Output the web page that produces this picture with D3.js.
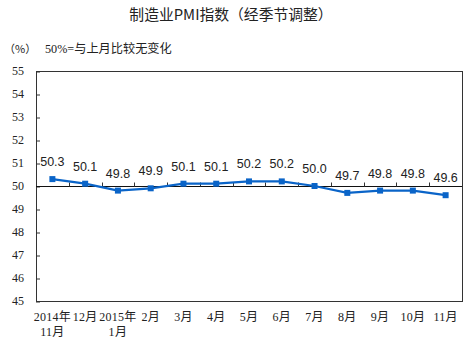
<!DOCTYPE html>
<html>
<head>
<meta charset="utf-8">
<script src="https://cdn.jsdelivr.net/npm/d3@7"></script>
<style>
  html, body { margin: 0; padding: 0; background: #fff; }
  svg { display: block; }
</style>
</head>
<body>
<svg id="chart" width="474" height="346"></svg>
<script>
// Monthly manufacturing PMI, seasonally adjusted
const months = ["2014年|11月", "12月", "2015年|1月", "2月", "3月", "4月", "5月", "6月", "7月", "8月", "9月", "10月", "11月"];
const pmi = [50.3, 50.1, 49.8, 49.9, 50.1, 50.1, 50.2, 50.2, 50.0, 49.7, 49.8, 49.8, 49.6];
const yTicks = [45, 46, 47, 48, 49, 50, 51, 52, 53, 54, 55];

const svg = d3.select("#chart");
const plotLeft = 36, plotRight = 462, plotTop = 71, plotBottom = 301;
const serif = "'Liberation Serif', 'Noto Sans CJK SC', serif";
const cjk = "'Noto Sans CJK SC', sans-serif";

const x = d3.scaleBand().domain(months).range([plotLeft, plotRight]);
const y = d3.scaleLinear().domain([45, 55]).range([plotBottom, plotTop]);

// Title and notes
svg.append("text").attr("x", 231).attr("y", 20).attr("text-anchor", "middle")
  .attr("font-family", cjk).attr("font-size", 14.8).attr("fill", "#222")
  .text("制造业PMI指数（经季节调整）");
svg.append("text").attr("x", 4).attr("y", 53)
  .attr("font-family", cjk).attr("font-size", 11).attr("fill", "#222")
  .text("（%）");
svg.append("text").attr("x", 45).attr("y", 53)
  .attr("font-family", serif).attr("font-size", 12.2).attr("fill", "#222")
  .text("50%=与上月比较无变化");

// Plot frame
svg.append("rect").attr("x", plotLeft + 0.5).attr("y", plotTop + 0.5)
  .attr("width", plotRight - plotLeft).attr("height", plotBottom - plotTop)
  .attr("fill", "none").attr("stroke", "#333").attr("stroke-width", 1);

// Y axis: inward ticks with labels on the left
const yAxis = svg.append("g").attr("transform", `translate(${plotLeft},0.5)`)
  .call(d3.axisRight(y).tickValues(yTicks).tickSize(4).tickFormat(""));
yAxis.select(".domain").remove();
yAxis.selectAll("line").attr("stroke", "#333");
svg.append("g").selectAll("text").data(yTicks).join("text")
  .attr("x", 24).attr("y", d => y(d) + 4).attr("text-anchor", "end")
  .attr("font-family", serif).attr("font-size", 12).attr("fill", "#222")
  .text(d => d);

// Category axis crossing at 50
const y50 = Math.round(y(50)) + 0.5;
svg.append("line").attr("x1", plotLeft).attr("x2", plotRight).attr("y1", y50).attr("y2", y50)
  .attr("stroke", "#111").attr("stroke-width", 1);
const bounds = months.map(m => x(m)).slice(1);
svg.append("g").selectAll("line").data(bounds).join("line")
  .attr("x1", d => Math.round(d) + 0.5).attr("x2", d => Math.round(d) + 0.5)
  .attr("y1", y50).attr("y2", y50 - 4).attr("stroke", "#333");

// Category labels below the frame
const xl = svg.append("g");
months.forEach(m => {
  const parts = m.split("|");
  const mid = x(m) + x.bandwidth() / 2;
  parts.forEach((p, i) => {
    xl.append("text").attr("x", mid).attr("y", 321 + i * 15).attr("text-anchor", "middle")
      .attr("font-family", serif).attr("font-size", 12).attr("letter-spacing", 0.3)
      .attr("fill", "#222").text(p);
  });
});

// Line and markers
const cx = (d, i) => x(months[i]) + x.bandwidth() / 2;
svg.append("path").datum(pmi)
  .attr("d", d3.line().x(cx).y(d => y(d)))
  .attr("fill", "none").attr("stroke", "#0a64c8").attr("stroke-width", 2.2);
svg.append("g").selectAll("rect").data(pmi).join("rect")
  .attr("x", (d, i) => cx(d, i) - 3).attr("y", d => y(d) - 3)
  .attr("width", 6).attr("height", 6).attr("fill", "#0a64c8");

// Value labels
svg.append("g").selectAll("text").data(pmi).join("text")
  .attr("x", (d, i) => cx(d, i)).attr("y", d => y(d) - 13).attr("text-anchor", "middle")
  .attr("font-family", "'Liberation Sans', Arial, sans-serif").attr("font-size", 12.5).attr("fill", "#222")
  .text(d => d.toFixed(1));
</script>
</body>
</html>
